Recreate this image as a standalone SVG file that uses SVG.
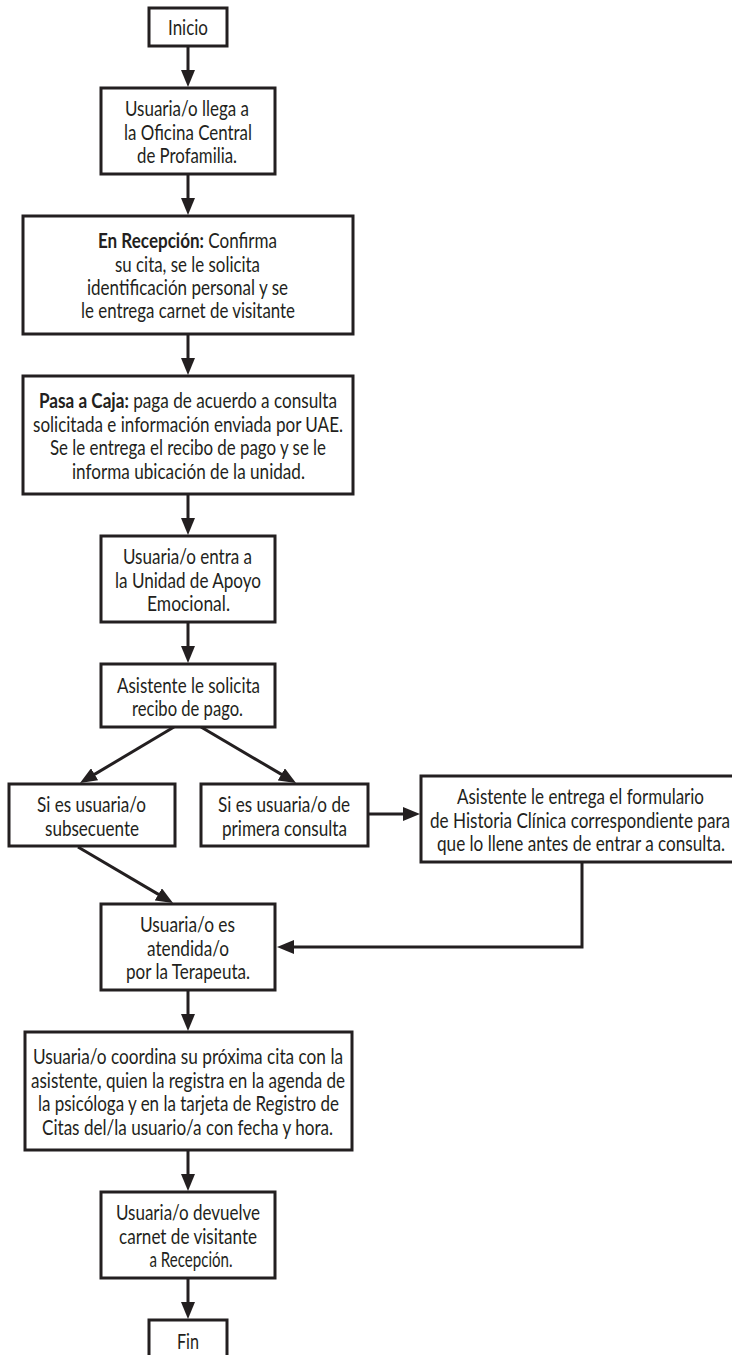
<svg xmlns="http://www.w3.org/2000/svg" width="732" height="1355" viewBox="0 0 732 1355">
<style>
.box{fill:#ffffff;stroke:#231f20;stroke-width:3}
.t{font-family:Lato,"Liberation Sans",sans-serif;font-size:21px;fill:#231f20;text-anchor:middle}
.b{font-weight:bold}
.c{fill:none;stroke:#231f20;stroke-width:3}
</style>
<defs>
<marker id="ah" markerUnits="userSpaceOnUse" viewBox="0 0 17 14" markerWidth="17" markerHeight="14" refX="9" refY="7" orient="auto">
<path d="M0,0 L17,7 L0,14 z" fill="#231f20"/>
</marker>
</defs>
<rect width="732" height="1355" fill="#ffffff"/>
<g id="connectors">
<line class="c" x1="188" y1="46" x2="188" y2="79" marker-end="url(#ah)"/>
<line class="c" x1="188" y1="174" x2="188" y2="207" marker-end="url(#ah)"/>
<line class="c" x1="188" y1="334" x2="188" y2="367" marker-end="url(#ah)"/>
<line class="c" x1="188" y1="494" x2="188" y2="527" marker-end="url(#ah)"/>
<line class="c" x1="188" y1="622" x2="188" y2="655" marker-end="url(#ah)"/>
<line class="c" x1="174" y1="727" x2="86.9" y2="778.9" marker-end="url(#ah)"/>
<line class="c" x1="201" y1="727" x2="289.1" y2="778.9" marker-end="url(#ah)"/>
<line class="c" x1="368" y1="814" x2="412" y2="814" marker-end="url(#ah)"/>
<line class="c" x1="78" y1="847" x2="166.1" y2="898.9" marker-end="url(#ah)"/>
<polyline class="c" points="582,862 582,947 285,947" marker-end="url(#ah)"/>
<line class="c" x1="188" y1="990" x2="188" y2="1023" marker-end="url(#ah)"/>
<line class="c" x1="188" y1="1150" x2="188" y2="1183" marker-end="url(#ah)"/>
<line class="c" x1="188" y1="1278" x2="188" y2="1311" marker-end="url(#ah)"/>
</g>
<g id="inicio">
<rect class="box" x="149" y="8" width="78" height="38"/>
<text class="t" x="188" y="35" textLength="40" lengthAdjust="spacingAndGlyphs">Inicio</text>
</g>
<g id="llega">
<rect class="box" x="101" y="88" width="174" height="86"/>
<text class="t" x="187" y="116" textLength="124" lengthAdjust="spacingAndGlyphs">Usuaria/o llega a</text>
<text class="t" x="188" y="140" textLength="128" lengthAdjust="spacingAndGlyphs">la Oficina Central</text>
<text class="t" x="187" y="163" textLength="100" lengthAdjust="spacingAndGlyphs">de Profamilia.</text>
</g>
<g id="recepcion">
<rect class="box" x="23" y="216" width="330" height="118"/>
<text class="t" x="187.5" y="248" textLength="179" lengthAdjust="spacingAndGlyphs"><tspan class="b">En Recepción:</tspan> Confirma</text>
<text class="t" x="187.5" y="272" textLength="145" lengthAdjust="spacingAndGlyphs">su cita, se le solicita</text>
<text class="t" x="187.5" y="295" textLength="201" lengthAdjust="spacingAndGlyphs">identificación personal y se</text>
<text class="t" x="188" y="318" textLength="214" lengthAdjust="spacingAndGlyphs">le entrega carnet de visitante</text>
</g>
<g id="caja">
<rect class="box" x="23" y="376" width="330" height="118"/>
<text class="t" x="188" y="408" textLength="298" lengthAdjust="spacingAndGlyphs"><tspan class="b">Pasa a Caja:</tspan> paga de acuerdo a consulta</text>
<text class="t" x="188" y="431.5" textLength="310" lengthAdjust="spacingAndGlyphs">solicitada e información enviada por UAE.</text>
<text class="t" x="188" y="455" textLength="276" lengthAdjust="spacingAndGlyphs">Se le entrega el recibo de pago y se le</text>
<text class="t" x="188.5" y="478.5" textLength="233" lengthAdjust="spacingAndGlyphs">informa ubicación de la unidad.</text>
</g>
<g id="entra">
<rect class="box" x="101" y="536" width="174" height="86"/>
<text class="t" x="187.5" y="564" textLength="129" lengthAdjust="spacingAndGlyphs">Usuaria/o entra a</text>
<text class="t" x="188" y="587.5" textLength="146" lengthAdjust="spacingAndGlyphs">la Unidad de Apoyo</text>
<text class="t" x="188.5" y="611" textLength="83" lengthAdjust="spacingAndGlyphs">Emocional.</text>
</g>
<g id="solicita">
<rect class="box" x="101" y="664" width="174" height="63"/>
<text class="t" x="188.5" y="692.5" textLength="143" lengthAdjust="spacingAndGlyphs">Asistente le solicita</text>
<text class="t" x="187.5" y="716" textLength="111" lengthAdjust="spacingAndGlyphs">recibo de pago.</text>
</g>
<g id="subsecuente">
<rect class="box" x="9" y="784" width="166" height="62"/>
<text class="t" x="91.5" y="812" textLength="109" lengthAdjust="spacingAndGlyphs">Si es usuaria/o</text>
<text class="t" x="92" y="835.5" textLength="94" lengthAdjust="spacingAndGlyphs">subsecuente</text>
</g>
<g id="primera">
<rect class="box" x="201" y="784" width="167" height="62"/>
<text class="t" x="284" y="812" textLength="132" lengthAdjust="spacingAndGlyphs">Si es usuaria/o de</text>
<text class="t" x="284.5" y="835.5" textLength="125" lengthAdjust="spacingAndGlyphs">primera consulta</text>
</g>
<g id="historia">
<rect class="box" x="421" y="776" width="319" height="86"/>
<text class="t" x="580.5" y="804" textLength="247" lengthAdjust="spacingAndGlyphs">Asistente le entrega el formulario</text>
<text class="t" x="580" y="827.5" textLength="300" lengthAdjust="spacingAndGlyphs">de Historia Clínica correspondiente para</text>
<text class="t" x="581" y="851" textLength="288" lengthAdjust="spacingAndGlyphs">que lo llene antes de entrar a consulta.</text>
</g>
<g id="terapeuta">
<rect class="box" x="101" y="904" width="174" height="86"/>
<text class="t" x="187.5" y="932" textLength="95" lengthAdjust="spacingAndGlyphs">Usuaria/o es</text>
<text class="t" x="188" y="955.5" textLength="82" lengthAdjust="spacingAndGlyphs">atendida/o</text>
<text class="t" x="188" y="979" textLength="124" lengthAdjust="spacingAndGlyphs">por la Terapeuta.</text>
</g>
<g id="coordina">
<rect class="box" x="25" y="1032" width="327" height="118"/>
<text class="t" x="188" y="1064" textLength="310" lengthAdjust="spacingAndGlyphs">Usuaria/o coordina su próxima cita con la</text>
<text class="t" x="188" y="1087.5" textLength="314" lengthAdjust="spacingAndGlyphs">asistente, quien la registra en la agenda de</text>
<text class="t" x="188.5" y="1111" textLength="301" lengthAdjust="spacingAndGlyphs">la psicóloga y en la tarjeta de Registro de</text>
<text class="t" x="187.5" y="1134.5" textLength="291" lengthAdjust="spacingAndGlyphs">Citas del/la usuario/a con fecha y hora.</text>
</g>
<g id="devuelve">
<rect class="box" x="101" y="1192" width="174" height="86"/>
<text class="t" x="188" y="1220" textLength="144" lengthAdjust="spacingAndGlyphs">Usuaria/o devuelve</text>
<text class="t" x="188" y="1243.5" textLength="138" lengthAdjust="spacingAndGlyphs">carnet de visitante</text>
<text class="t" x="191" y="1267" textLength="83" lengthAdjust="spacingAndGlyphs">a Recepción.</text>
</g>
<g id="fin">
<rect class="box" x="149" y="1320" width="78" height="40"/>
<text class="t" x="188" y="1349" textLength="22" lengthAdjust="spacingAndGlyphs">Fin</text>
</g>
</svg>
